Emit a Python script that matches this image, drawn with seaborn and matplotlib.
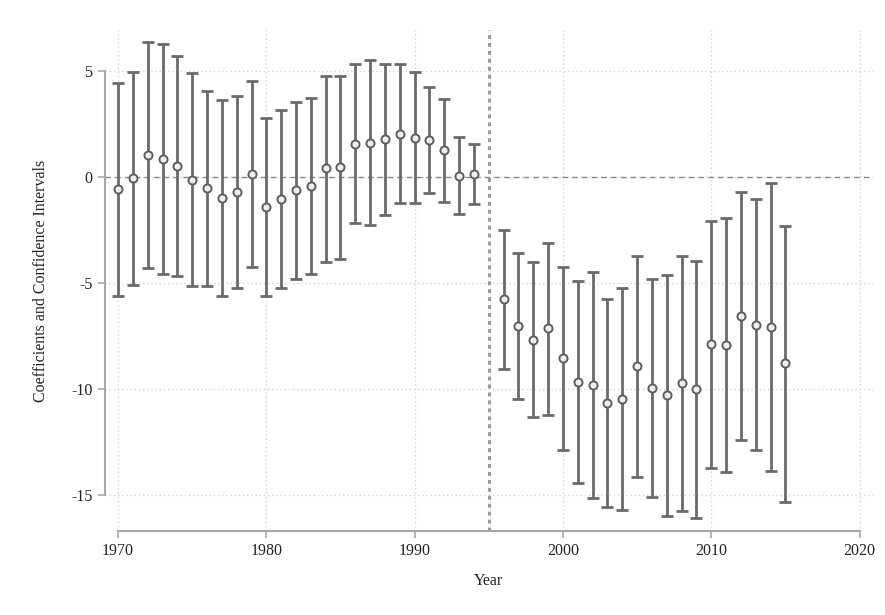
import numpy as np
import pandas as pd
import matplotlib
matplotlib.use("Agg")
import matplotlib.pyplot as plt
import seaborn as sns

years = [1970, 1971, 1972, 1973, 1974, 1975, 1976, 1977, 1978, 1979,
         1980, 1981, 1982, 1983, 1984, 1985, 1986, 1987, 1988, 1989,
         1990, 1991, 1992, 1993, 1994,
         1996, 1997, 1998, 1999, 2000, 2001, 2002, 2003, 2004, 2005,
         2006, 2007, 2008, 2009, 2010, 2011, 2012, 2013, 2014, 2015]
coef = [-0.58, -0.03, 1.04, 0.85, 0.53, -0.14, -0.53, -1.01, -0.72, 0.14,
        -1.40, -1.04, -0.61, -0.41, 0.41, 0.46, 1.56, 1.62, 1.78, 2.03,
        1.86, 1.75, 1.27, 0.05, 0.14,
        -5.77, -7.03, -7.69, -7.14, -8.52, -9.65, -9.81, -10.65, -10.47, -8.92,
        -9.94, -10.30, -9.70, -10.02, -7.89, -7.92, -6.54, -6.98, -7.06, -8.79]
upper = [4.45, 4.97, 6.35, 6.26, 5.72, 4.89, 4.06, 3.63, 3.82, 4.53,
         2.80, 3.16, 3.55, 3.71, 4.78, 4.78, 5.31, 5.52, 5.31, 5.31,
         4.94, 4.26, 3.68, 1.87, 1.56,
         -2.50, -3.60, -3.99, -3.13, -4.23, -4.91, -4.47, -5.77, -5.25, -3.71,
         -4.81, -4.63, -3.71, -3.95, -2.06, -1.95, -0.71, -1.04, -0.28, -2.31]
lower = [-5.61, -5.09, -4.28, -4.59, -4.67, -5.14, -5.14, -5.61, -5.22, -4.26,
         -5.61, -5.22, -4.80, -4.58, -4.03, -3.88, -2.15, -2.26, -1.79, -1.24,
         -1.24, -0.77, -1.19, -1.75, -1.29,
         -9.06, -10.47, -11.34, -11.23, -12.88, -14.45, -15.13, -15.58, -15.71, -14.14,
         -15.08, -16.00, -15.74, -16.10, -13.74, -13.90, -12.41, -12.88, -13.85, -15.32]
xticks = [1970, 1980, 1990, 2000, 2010, 2020]
yticks = [-15, -10, -5, 0, 5]
event_year = 1995

df = pd.DataFrame({"Year": years, "coef": coef, "upper": upper, "lower": lower})

sns.set_theme(style="white")
plt.rcParams["font.family"] = ["Liberation Serif", "DejaVu Serif"]
plt.rcParams["axes.unicode_minus"] = False

fig = plt.figure(figsize=(8.85, 6.15), dpi=100)
ax = fig.add_axes([0.1186, 0.1366, 0.8678, 0.8146])

# grid
for xv in xticks:
    ax.axvline(xv, color="#d4d4d4", lw=1.0, ls=(0, (1, 2)), zorder=0)
for yv in yticks:
    ax.axhline(yv, color="#d4d4d4", lw=1.0, ls=(0, (1, 2)), zorder=0)

ax.axhline(0, color="#8a8a8a", lw=1.0, ls=(0, (4, 3)), zorder=1)
ax.axvline(event_year, color="#9a9a9a", lw=2.2, ls=(0, (1.3, 1.3)), zorder=1)

ax.errorbar(df["Year"], df["coef"],
            yerr=[df["coef"] - df["lower"], df["upper"] - df["coef"]],
            fmt="none", ecolor="#6a6a6a", elinewidth=2.0, capsize=4.0,
            capthick=2.0, zorder=2)
sns.scatterplot(data=df, x="Year", y="coef", ax=ax, s=34, marker="o",
                facecolor="#eeeeee", edgecolor="#5e5e5e", linewidth=1.4,
                zorder=3, legend=False)

ax.set_xlim(1969.12, 2020.9)
ax.set_ylim(-16.7, 6.93)
ax.set_xticks(xticks)
ax.set_yticks(yticks)
ax.set_xticklabels([str(v) for v in xticks])
ax.set_yticklabels([str(v) for v in yticks])

for s in ["top", "right"]:
    ax.spines[s].set_visible(False)
ax.spines["left"].set_bounds(-15, 5)
ax.spines["bottom"].set_bounds(1970, 2020)
for s in ["left", "bottom"]:
    ax.spines[s].set_color("#a8a8a8")
    ax.spines[s].set_linewidth(1.5)

ax.tick_params(axis="both", which="both", direction="out", length=5,
               width=1.2, color="#a8a8a8", labelsize=11.5, labelcolor="#222222",
               left=True, bottom=True, pad=4)

ax.set_xlabel("Year", fontsize=11.5, color="#222222", labelpad=10)
ax.set_ylabel("Coefficients and Confidence Intervals", fontsize=11.5,
              color="#222222", labelpad=16)

fig.savefig("out.png", dpi=100)
